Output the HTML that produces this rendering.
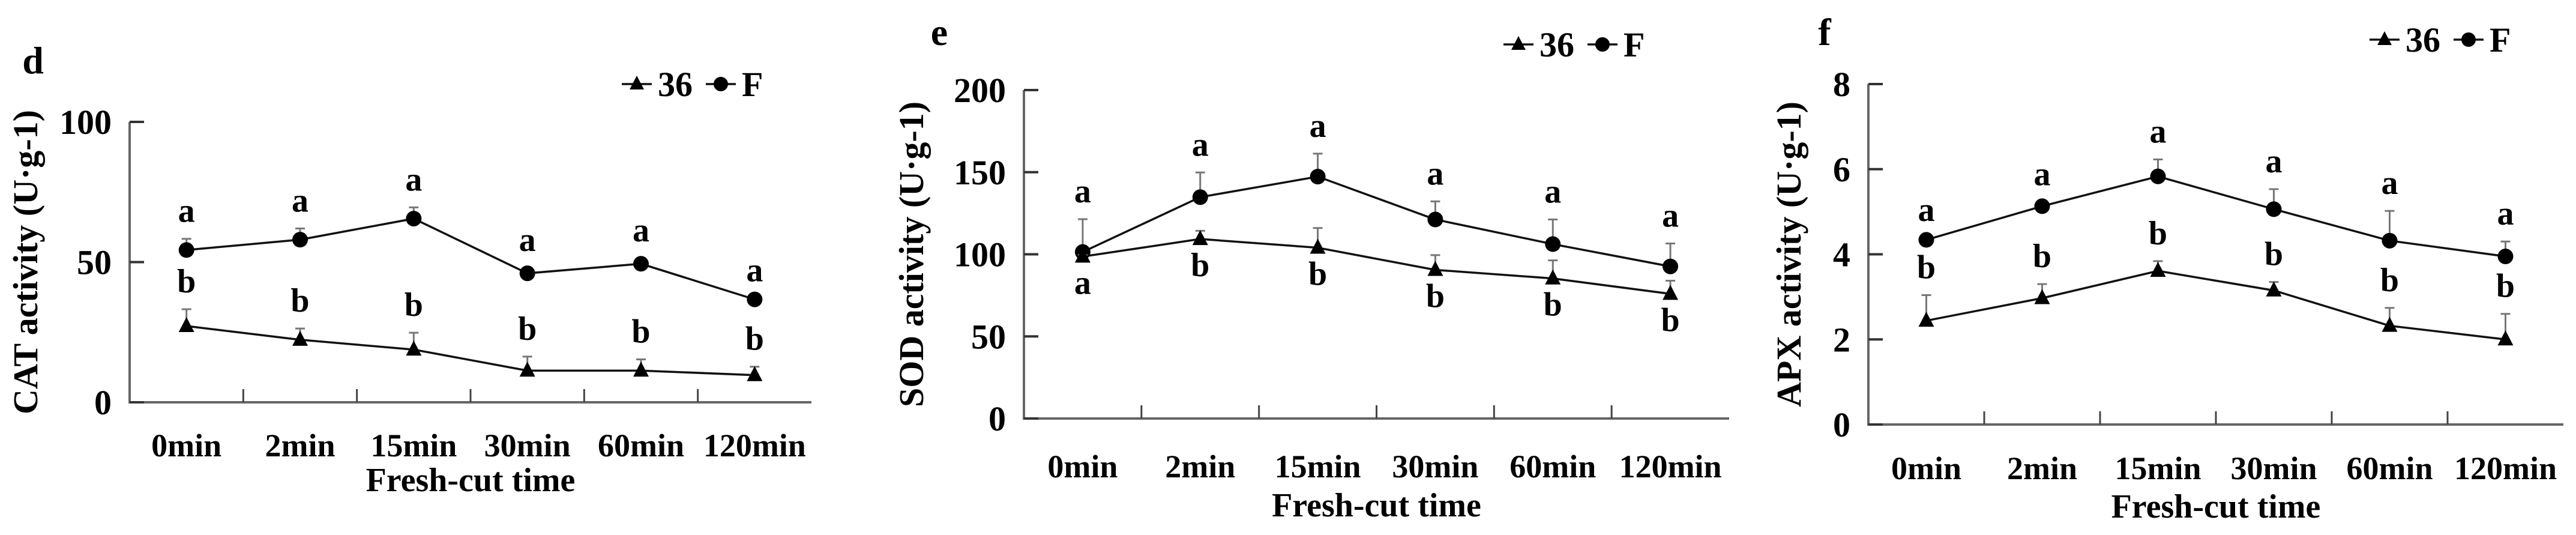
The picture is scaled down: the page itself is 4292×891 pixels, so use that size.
<!DOCTYPE html>
<html><head><meta charset="utf-8"><style>
html,body{margin:0;padding:0;background:#fff;}
svg{display:block;}
text{font-family:"Liberation Serif",serif;font-weight:bold;fill:#000;}
</style></head><body>
<svg id="chart" width="4292" height="891" viewBox="0 0 4292 891" xmlns="http://www.w3.org/2000/svg"></svg>
<script>
const categories = ["0min","2min","15min","30min","60min","120min"];
// Panel d: CAT
const catF = [54.3, 58, 65.5, 46, 49.4, 36.7];
const catFErr = [4, 4, 4, 2, 2, 0.5];
const cat36 = [27.2, 22.3, 18.8, 11.3, 11.3, 9.7];
const cat36Err = [6, 4, 6, 5, 4, 3];
const catFLetters = ["a","a","a","a","a","a"];
const cat36Letters = ["b","b","b","b","b","b"];
const catTicks = [0, 50, 100];
// Panel e: SOD
const sodF = [101.4, 134.8, 147.3, 121.2, 106.2, 92.6];
const sodFErr = [20, 15, 14, 11, 15, 14];
const sod36 = [98.6, 109.3, 104, 90.5, 85.3, 75.9];
const sod36Err = [1, 5, 12, 9, 11, 8];
const sodFLetters = ["a","a","a","a","a","a"];
const sod36Letters = ["a","b","b","b","b","b"];
const sodTicks = [0, 50, 100, 150, 200];
// Panel f: APX
const apxF = [4.34, 5.13, 5.83, 5.06, 4.32, 3.95];
const apxFErr = [0.05, 0.1, 0.4, 0.47, 0.7, 0.35];
const apx36 = [2.44, 2.97, 3.61, 3.15, 2.32, 2.0];
const apx36Err = [0.6, 0.33, 0.23, 0.2, 0.42, 0.6];
const apxFLetters = ["a","a","a","a","a","a"];
const apx36Letters = ["b","b","b","b","b","b"];
const apxTicks = [0, 2, 4, 6, 8];

const NS = "http://www.w3.org/2000/svg";
const svg = document.getElementById("chart");
function mk(tag, attrs, parent, txt){
  const e = document.createElementNS(NS, tag);
  for (const k in attrs) e.setAttribute(k, attrs[k]);
  if (txt !== undefined) e.textContent = txt;
  (parent || svg).appendChild(e);
  return e;
}

function panel(p){
  const g = mk("g", {});
  
  
  const ymax = p.ticks[p.ticks.length-1];
  const ys = v => p.y0 - (v / ymax) * (p.y0 - p.y1);
  const bw = (p.x1 - p.x0) / categories.length;
  const xs = i => p.x0 + bw * (i + 0.5);

  const lbl = mk("text", {x:p.lx, y:p.ly, "font-size":64, "text-anchor":"middle"}, g, p.id);
  
  

  // axes
  const ax = mk("path", {d:`M${p.x0},${p.y1} V${p.y0} H${p.x1}`, stroke:"#666", "stroke-width":4, fill:"none"}, g);
  
  
  p.ticks.forEach(t => {
    const y = ys(t);
    const tk = mk("line", {x1:p.x0, x2:p.x0+24, y1:y, y2:y, stroke:"#333", "stroke-width":4}, g);
    
    
    const tl = mk("text", {x:p.x0-30, y:y+20, "font-size":58, "text-anchor":"end"}, g, String(t));
    
    
  });
  categories.forEach((c, i) => {
    if (i > 0) {
      const xt = p.x0 + bw * i;
      const tk = mk("line", {x1:xt, x2:xt, y1:p.y0, y2:p.y0-22, stroke:"#444", "stroke-width":3}, g);
      
      
    }
    const tl = mk("text", {x:xs(i), y:p.xly, "font-size":54, "text-anchor":"middle"}, g, c);
    
    
  });
  const xl = mk("text", {x:(p.x0+p.x1)/2, y:p.xty, "font-size":56, "text-anchor":"middle"}, g, "Fresh-cut time");
  
  
  const yl = mk("text", {x:0, y:0, "font-size":58, "text-anchor":"middle", transform:`translate(${p.ytx},${(p.y0+p.y1)/2}) rotate(-90)`}, g, p.ytitle);
  
  

  function series(vals, errs, letters, kind, below){
    const pts = vals.map((v, i) => `${xs(i)},${ys(v)}`).join(" ");
    const ln = mk("polyline", {points:pts, fill:"none", stroke:"#111", "stroke-width":3.5}, g);
    
    
    vals.forEach((v, i) => {
      const x = xs(i), y = ys(v), yt = ys(v + errs[i]);
      const eb = mk("path", {d:`M${x},${y} V${yt} M${x-8},${yt} H${x+8}`, stroke:"#777", "stroke-width":3, fill:"none"}, g);
      
      
      let m;
      if (kind === "F") m = mk("circle", {cx:x, cy:y, r:13, fill:"#000"}, g);
      else m = mk("path", {d:`M${x},${y-15} L${x+13},${y+10} L${x-13},${y+10} Z`, fill:"#000"}, g);
      
      
      const ly = below ? y + 62 : yt - 28;
      const lt = mk("text", {x:x, y:ly, "font-size":56, "text-anchor":"middle"}, g, letters[i]);
      
      
    });
  }
  series(p.f, p.fe, p.fl, "F", false);
  series(p.s, p.se, p.sl, "36", p.below);

  // legend
  const lg = mk("g", {}, g);
  
  
  const L = p.legx, Y = p.legy;
  mk("line", {x1:L, x2:L+50, y1:Y, y2:Y, stroke:"#111", "stroke-width":3.5}, lg);
  mk("path", {d:`M${L+25},${Y-14} L${L+37},${Y+9} L${L+13},${Y+9} Z`, fill:"#000"}, lg);
  mk("text", {x:L+60, y:Y+20, "font-size":58}, lg, "36");
  mk("line", {x1:L+140, x2:L+190, y1:Y, y2:Y, stroke:"#111", "stroke-width":3.5}, lg);
  mk("circle", {cx:L+165, cy:Y, r:12, fill:"#000"}, lg);
  mk("text", {x:L+200, y:Y+20, "font-size":58}, lg, "F");
}

panel({id:"d", x0:216, x1:1352, y0:670, y1:203, ticks:catTicks, lx:55, ly:122,
  f:catF, fe:catFErr, fl:catFLetters, s:cat36, se:cat36Err, sl:cat36Letters, below:false,
  xly:760, xty:818, ytx:62, ytitle:"CAT activity (U·g-1)", legx:1036, legy:140});
panel({id:"e", x0:1706, x1:2881, y0:697, y1:150, ticks:sodTicks, lx:1565, ly:75,
  f:sodF, fe:sodFErr, fl:sodFLetters, s:sod36, se:sod36Err, sl:sod36Letters, below:true,
  xly:795, xty:860, ytx:1538, ytitle:"SOD activity (U·g-1)", legx:2505, legy:74});
panel({id:"f", x0:3113, x1:4271, y0:707, y1:140, ticks:apxTicks, lx:3040, ly:75,
  f:apxF, fe:apxFErr, fl:apxFLetters, s:apx36, se:apx36Err, sl:apx36Letters, below:false,
  xly:798, xty:862, ytx:3000, ytitle:"APX activity (U·g-1)", legx:3948, legy:66});
</script>
</body></html>
